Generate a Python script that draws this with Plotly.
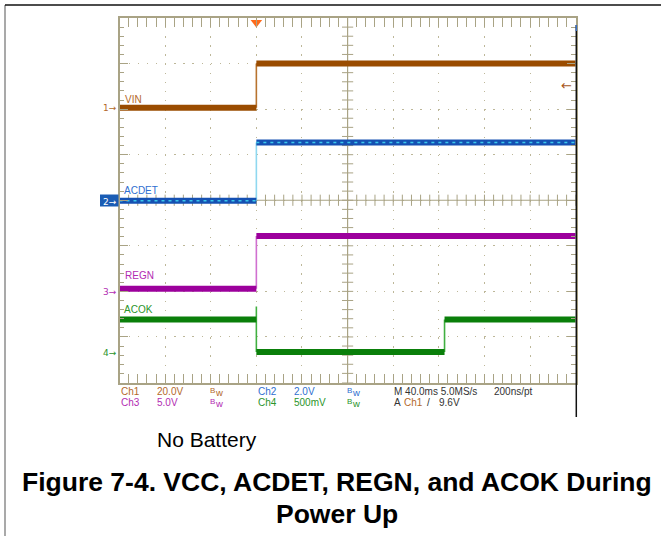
import numpy as np
import plotly.graph_objects as go

# ---------------- data (read from the scope shot) ----------------
TIME_PER_DIV_MS = 40.0
TIME_RANGE_MS = [-120.0, 280.0]          # 10 divisions, trigger at t = 0
VOLTS_PER_DIV = [20.0, 2.0, 5.0, 0.5]    # Ch1..Ch4

VIN_EDGES = [-120.0, 0.0, 280.0]
VIN_LEVELS = [0.0, 19.4]

ACDET_EDGES = [-120.0, 0.0, 280.0]
ACDET_LEVELS = [0.04, 2.59]

REGN_EDGES = [-120.0, 0.0, 280.0]
REGN_LEVELS = [0.34, 6.13]

ACOK_EDGES = [-120.0, 0.0, 165.0, 280.0]
ACOK_LEVELS = [0.366, 0.01, 0.366]
ACOK_SPIKE = 0.51

TRIGGER_TIME = 0.0
TRIGGER_LEVEL_V = 9.6

CHANNEL_NAMES = ["VIN", "ACDET", "REGN", "ACOK"]

# ---------------- layout helpers ----------------
W, H = 661, 536
def px(x):
    return x / W
def py(y):
    return 1 - y / H

X0, X1 = px(119.5), px(575.7)
Y0, Y1 = py(382.5), py(18.0)

GROUND_DIV = [2.03, -0.03, -2.01, -3.35]   # ground marker position of each channel (divisions from centre)

BROWN = "#9a4c00"
BLUE = "#1550b2"
CYAN = "#3cc8ec"
PURPLE = "#9c009c"
GREEN = "#0a7f0a"
COLORS = [BROWN, BLUE, PURPLE, GREEN]
EDGE_COLORS = ["#b8732e", "#8fd8f0", "#d070d0", "#40b040"]
GRID = "#bdb799"
FRAME = "#a9a385"

fig = go.Figure()

# centre cross lines with ticks
tmid = (TIME_RANGE_MS[0] + TIME_RANGE_MS[1]) / 2
fig.add_trace(go.Scatter(x=TIME_RANGE_MS, y=[0, 0], mode="lines",
                         line=dict(color=FRAME, width=1.2), hoverinfo="skip", showlegend=False))
fig.add_trace(go.Scatter(x=[tmid, tmid], y=[-4, 4], mode="lines",
                         line=dict(color=FRAME, width=1.2), hoverinfo="skip", showlegend=False))
tx = np.arange(TIME_RANGE_MS[0], TIME_RANGE_MS[1] + 0.1, TIME_PER_DIV_MS / 5)
fig.add_trace(go.Scatter(x=tx, y=np.zeros_like(tx), mode="markers",
                         marker=dict(symbol="line-ns", size=8, line=dict(color=FRAME, width=1)),
                         hoverinfo="skip", showlegend=False))
vy = np.arange(-4, 4.01, 0.2)
fig.add_trace(go.Scatter(x=np.full_like(vy, tmid), y=vy, mode="markers",
                         marker=dict(symbol="line-ew", size=8, line=dict(color=FRAME, width=1)),
                         hoverinfo="skip", showlegend=False))


def segs(edges, levels):
    xs, ys = [], []
    for i, lv in enumerate(levels):
        xs += [edges[i], edges[i + 1], None]
        ys += [lv, lv, None]
    return xs, ys


def risers(edges, levels):
    xs, ys = [], []
    for i in range(1, len(levels)):
        xs += [edges[i], edges[i], None]
        ys += [levels[i - 1], levels[i], None]
    return xs, ys


channels = [(VIN_EDGES, VIN_LEVELS), (ACDET_EDGES, ACDET_LEVELS),
            (REGN_EDGES, REGN_LEVELS), (ACOK_EDGES, ACOK_LEVELS)]

for k, (edges, levels) in enumerate(channels):
    yax = "y%d" % (k + 2)
    rx, ry = risers(edges, levels)
    if k == 3:
        rx = [edges[1], edges[1], edges[1], None, edges[2], edges[2]]
        ry = [levels[0], ACOK_SPIKE, levels[1], None, levels[1], levels[2]]
    fig.add_trace(go.Scatter(x=rx, y=ry, yaxis=yax, mode="lines",
                             line=dict(color=EDGE_COLORS[k], width=1.6),
                             hoverinfo="skip", showlegend=False))
    sx, sy = segs(edges, levels)
    fig.add_trace(go.Scatter(x=sx, y=sy, yaxis=yax, mode="lines", name=CHANNEL_NAMES[k],
                             line=dict(color=COLORS[k], width=6), showlegend=False))
    if k == 1:
        fig.add_trace(go.Scatter(x=sx, y=sy, yaxis=yax, mode="lines",
                                 line=dict(color=CYAN, width=1.5, dash="3px,4px"),
                                 hoverinfo="skip", showlegend=False))

# trigger position marker (top)
fig.add_trace(go.Scatter(x=[TRIGGER_TIME], y=[3.9], mode="markers", cliponaxis=False,
                         marker=dict(symbol="triangle-down", size=10, color="#ff6a1a"),
                         hoverinfo="skip", showlegend=False))

axis_common = dict(showticklabels=False, zeroline=False, showline=True, linecolor=FRAME,
                   linewidth=1.5, mirror="allticks", ticks="inside", ticklen=9, tickwidth=1,
                   tickcolor=FRAME, showgrid=True, gridcolor=GRID, gridwidth=1.2,
                   griddash="1.3px,7.82px", fixedrange=True)

fig.update_layout(
    width=W, height=H, margin=dict(l=0, r=0, t=0, b=0),
    paper_bgcolor="white", plot_bgcolor="white", showlegend=False,
    xaxis=dict(domain=[X0, X1], range=TIME_RANGE_MS, tick0=TIME_RANGE_MS[0], dtick=TIME_PER_DIV_MS,
               minor=dict(tick0=TIME_RANGE_MS[0], dtick=TIME_PER_DIV_MS / 5, ticks="inside",
                          ticklen=5, tickcolor=FRAME, tickwidth=1, showgrid=False),
               **axis_common),
    yaxis=dict(domain=[Y0, Y1], range=[-4, 4], tick0=-4, dtick=1,
               minor=dict(tick0=-4, dtick=0.2, ticks="inside", ticklen=5, tickcolor=FRAME,
                          tickwidth=1, showgrid=False),
               **axis_common),
)
for k in range(4):
    v = VOLTS_PER_DIV[k]
    g = GROUND_DIV[k]
    fig.update_layout(**{"yaxis%d" % (k + 2): dict(
        overlaying="y", anchor="x", range=[(-4 - g) * v, (4 - g) * v],
        visible=False, fixedrange=True)})

# ---------------- shapes ----------------
shapes = [
    dict(type="line", xref="paper", yref="paper", x0=px(5), x1=px(5), y0=py(5), y1=0,
         line=dict(color="#8c8c8c", width=1.5)),
    dict(type="line", xref="paper", yref="paper", x0=px(5), x1=1, y0=py(5), y1=py(5),
         line=dict(color="#111111", width=1.5)),
    dict(type="line", xref="paper", yref="paper", x0=px(576.3), x1=px(576.3), y0=py(25), y1=py(417),
         line=dict(color="#111111", width=1.5)),
    dict(type="line", xref="paper", yref="paper", x0=px(576.3), x1=px(576.3), y0=py(25), y1=py(31),
         line=dict(color="#3a6fc0", width=1.5)),
    dict(type="rect", xref="paper", yref="paper", x0=px(100), x1=px(118.5), y0=py(206.5), y1=py(194.5),
         fillcolor="#1a5cb4", line=dict(width=0), layer="above"),
]
fig.update_layout(shapes=shapes)

# ---------------- annotations ----------------
ann = []
def txt(x, y, s, color, size=10, xanchor="left", family="Liberation Sans"):
    ann.append(dict(x=px(x), y=py(y), xref="paper", yref="paper", text=s, showarrow=False,
                    xanchor=xanchor, yanchor="middle",
                    font=dict(family=family, size=size, color=color)))

# channel names
txt(122.5, 99.5, CHANNEL_NAMES[0], "#b3692a", 10)
txt(121.5, 190.5, CHANNEL_NAMES[1], "#2f6fd0", 10)
txt(122.5, 275.5, CHANNEL_NAMES[2], "#b22cb2", 10)
txt(121.5, 309.5, CHANNEL_NAMES[3], "#2a942a", 10)

# ground markers
for k, (lab, col) in enumerate(zip(["1", "2", "3", "4"], ["#b3692a", "white", "#b22cb2", "#2a942a"])):
    ann.append(dict(x=X0 - 0.0015, y=0, xref="paper",
                    yref="y%d" % (k + 2), text=lab + "\u2192", showarrow=False,
                    xanchor="right", yanchor="middle",
                    font=dict(family="DejaVu Sans", size=9, color=col)))

# trigger level marker on right
ann.append(dict(x=X1 - 0.003, y=TRIGGER_LEVEL_V, xref="paper", yref="y2", text="\u2190",
                showarrow=False, xanchor="right", yanchor="middle",
                font=dict(family="DejaVu Sans", size=13, color="#a8561a")))

# scope readout
C1, C2, C3, C4, CK = "#b3692a", "#2f6fd0", "#b22cb2", "#2a942a", "#333333"
r1, r2 = 391.7, 402.7
def bw(x, y, col):
    txt(x, y - 1.5, "B", col, 8)
    txt(x + 5, y + 0.5, "w", col, 9.5)
txt(118.5, r1, "Ch1", C1); txt(155, r1, "20.0V", C1); bw(208, r1, C1)
txt(255.5, r1, "Ch2", C2); txt(292, r1, "2.0V", C2); bw(345, r1, C2)
txt(392, r1, "M 40.0ms 5.0MS/s", CK); txt(492, r1, "200ns/pt", CK)
txt(118.5, r2, "Ch3", C3); txt(155, r2, "5.0V", C3); bw(208, r2, C3)
txt(255.5, r2, "Ch4", C4); txt(292, r2, "500mV", C4); bw(345, r2, C4)
txt(392, r2, "A", CK); txt(402, r2, "Ch1", C1); txt(425, r2, "/", CK); txt(437, r2, "9.6V", CK)

# captions
txt(155, 439.5, "No Battery", "#000000", 21)
txt(337, 482, "<b>Figure 7-4. VCC, ACDET, REGN, and ACOK During</b>", "#000000", 26.5, xanchor="center")
txt(337, 514, "<b>Power Up</b>", "#000000", 26.5, xanchor="center")

fig.update_layout(annotations=ann)
fig.write_html("out.html", config={"displayModeBar": False},
               post_script="document.body.style.margin='0px';document.body.style.overflow='hidden';")
